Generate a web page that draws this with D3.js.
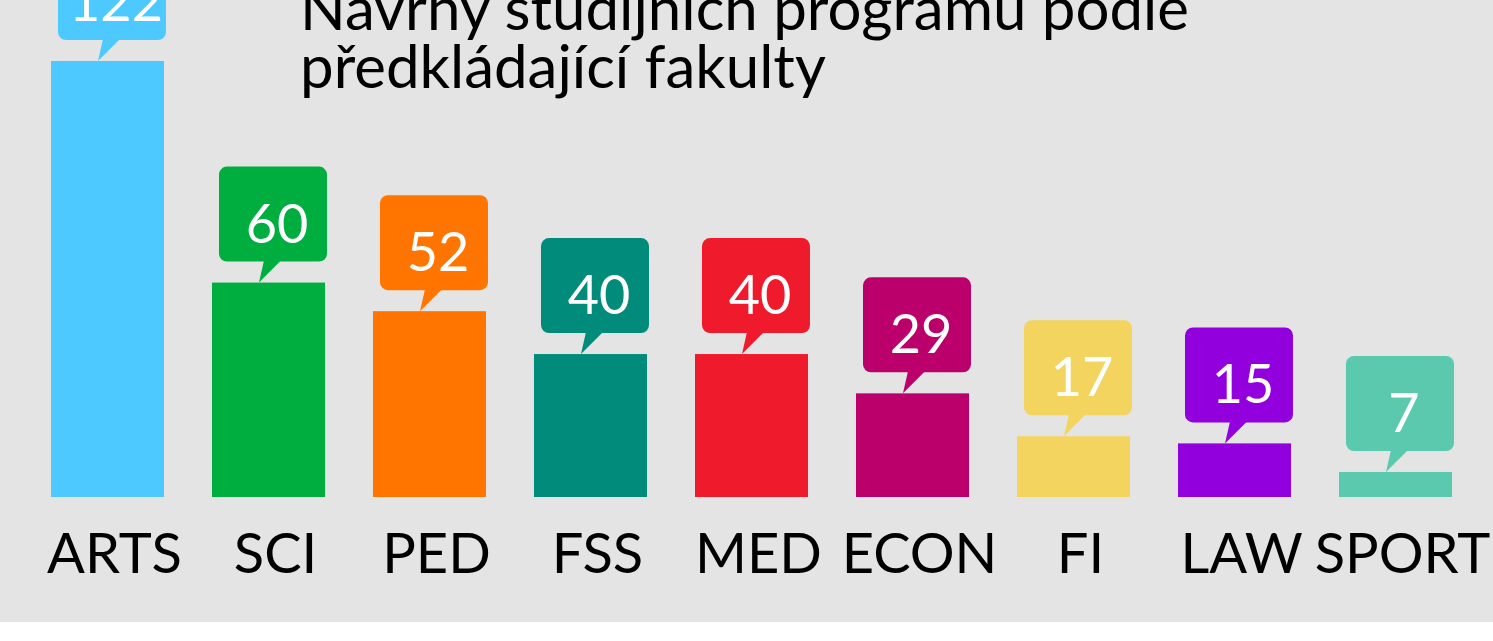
<!DOCTYPE html>
<html>
<head>
<meta charset="utf-8">
<script src="https://cdn.jsdelivr.net/npm/d3@7"></script>
<style>
  html, body { margin: 0; padding: 0; background: #fff; }
  svg { display: block; }
  text { font-family: Lato, "Open Sans", sans-serif; }
</style>
</head>
<body>
<div id="chart"></div>
<script>
// data
var faculties = ['ARTS', 'SCI', 'PED', 'FSS', 'MED', 'ECON', 'FI', 'LAW', 'SPORT'];
var counts = [122, 60, 52, 40, 40, 29, 17, 15, 7];
var colors = ['#4dc9ff', '#00ae40', '#ff7500', '#008b7a', '#ef1b2c', '#bc006b', '#f2d45f', '#9200dd', '#5bc9ae'];
var titleLines = ['Návrhy studijních programů podle', 'předkládající fakulty'];

var W = 1493, H = 641;
var svg = d3.select('#chart').append('svg').attr('width', W).attr('height', H);

// grey panel
svg.append('rect').attr('x', 0).attr('y', 0).attr('width', W).attr('height', 622).attr('fill', '#e4e4e4');

var x = d3.scaleBand().domain(faculties).range([27, 1476]).paddingInner(0.298).paddingOuter(0.149);
var y = d3.scaleLinear().domain([0, d3.max(counts)]).range([497, 61]);

var data = faculties.map(function (f, i) { return {name: f, value: counts[i], color: colors[i]}; });

// bars
svg.selectAll('.bar').data(data).enter().append('rect')
  .attr('class', 'bar')
  .attr('x', function (d) { return x(d.name); })
  .attr('y', function (d) { return y(d.value); })
  .attr('width', x.bandwidth())
  .attr('height', function (d) { return y(0) - y(d.value); })
  .attr('fill', function (d) { return d.color; });

// callouts (speech bubbles above each bar)
var boxW = 108, boxH = 95, gap = 21, boxOff = 7;
var callout = svg.selectAll('.callout').data(data).enter().append('g')
  .attr('class', 'callout')
  .attr('transform', function (d) {
    return 'translate(' + (x(d.name) + boxOff) + ',' + (y(d.value) - gap - boxH) + ')';
  });

callout.append('rect')
  .attr('width', boxW).attr('height', boxH)
  .attr('rx', 8).attr('ry', 8)
  .attr('fill', function (d) { return d.color; });

callout.append('path')
  .attr('d', 'M45,' + (boxH - 1) + 'L62,' + (boxH - 1) + 'L40,' + (boxH + gap) + 'Z')
  .attr('fill', function (d) { return d.color; });

callout.append('text')
  .attr('x', boxW / 2 + 4)
  .attr('y', boxH - 19)
  .attr('text-anchor', 'middle')
  .attr('fill', '#fff')
  .style('font-size', '54px')
  .text(function (d) { return d.value; });

// category labels
var xAxis = svg.append('g')
  .attr('transform', 'translate(7,' + 533 + ')')
  .call(d3.axisBottom(x).tickSize(0).tickPadding(0));
xAxis.select('.domain').remove();
xAxis.selectAll('text')
  .attr('dy', null)
  .attr('y', 40)
  .style('font-family', 'Lato, sans-serif')
  .style('font-size', '56px')
  .attr('fill', '#000');

// title
svg.append('g').selectAll('text').data(titleLines).enter().append('text')
  .attr('x', 300)
  .attr('y', function (d, i) { return 30 + i * 58; })
  .attr('fill', '#000')
  .style('font-size', '60px')
  .text(function (d) { return d; });
</script>
</body>
</html>
